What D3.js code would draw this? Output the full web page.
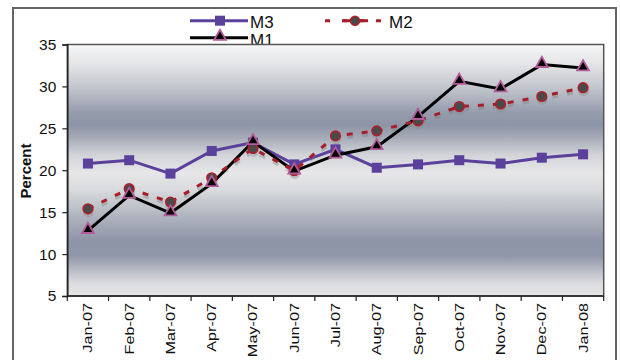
<!DOCTYPE html>
<html>
<head>
<meta charset="utf-8">
<script src="https://cdn.jsdelivr.net/npm/d3@7/dist/d3.min.js"></script>
<style>
  html, body { margin: 0; padding: 0; background: #fff; }
  svg { display: block; font-family: "Liberation Sans", Arial, sans-serif; }
</style>
</head>
<body>
<svg id="chart" width="620" height="360"></svg>
<script>
// Monthly values, January 2007 – January 2008
const months = ["Jan-07","Feb-07","Mar-07","Apr-07","May-07","Jun-07","Jul-07",
                "Aug-07","Sep-07","Oct-07","Nov-07","Dec-07","Jan-08"];
const m1 = [12.8, 17.0, 14.9, 18.4, 23.4, 19.9, 21.8, 22.8, 26.4, 30.6, 29.7, 32.6, 32.2];
const m2 = [15.4, 17.8, 16.2, 19.1, 22.6, 19.95, 24.1, 24.7, 25.9, 27.6, 27.9, 28.8, 29.85];
const m3 = [20.8, 21.2, 19.6, 22.3, 23.3, 20.7, 22.5, 20.3, 20.7, 21.2, 20.8, 21.5, 21.9];
const yTicks = [5, 10, 15, 20, 25, 30, 35];
const yTitle = "Percent";

const svg = d3.select("#chart");

// outer chart frame
svg.append("rect")
  .attr("x", 13).attr("y", 8).attr("width", 603).attr("height", 360)
  .attr("fill", "#fff").attr("stroke", "#666").attr("stroke-width", 2);

const plot = { left: 67.3, right: 603.7, top: 44.5, bottom: 296 };

const x = d3.scaleBand().domain(months).range([plot.left, plot.right]);
const y = d3.scaleLinear().domain([5, 35]).range([plot.bottom, plot.top]);
const cx = d => x(d) + x.bandwidth() / 2;

// ---- legend (drawn first: the plot panel overlaps its lower edge)
const legend = svg.append("g");
function legendLine(g, x0, x1, yy, color, width, dash) {
  g.append("line").attr("x1", x0).attr("x2", x1).attr("y1", yy).attr("y2", yy)
    .attr("stroke", color).attr("stroke-width", width)
    .attr("stroke-dasharray", dash || null);
}
// M3
legendLine(legend, 190, 248, 20.7, "#5b409c", 3);
legend.append("rect").attr("x", 215).attr("y", 15.7).attr("width", 10).attr("height", 10)
  .attr("fill", "#5b409c");
legend.append("text").attr("x", 250).attr("y", 27.5).attr("font-size", 17).attr("fill", "#111").text("M3");
// M2
legendLine(legend, 325, 387, 20.7, "#a61e2a", 3, "5,12");
legendLine(legend, 343, 368, 20.7, "#a61e2a", 3);
legend.append("circle").attr("cx", 355).attr("cy", 20.7).attr("r", 4.5)
  .attr("fill", "#4a4a4a").attr("stroke", "#b01e2a").attr("stroke-width", 1.5);
legend.append("text").attr("x", 389).attr("y", 27.5).attr("font-size", 17).attr("fill", "#111").text("M2");
// M1
legendLine(legend, 190, 248, 37.7, "#000", 3);
legend.append("path").attr("d", d3.symbol(d3.symbolTriangle, 60)())
  .attr("transform", "translate(220,36.5)")
  .attr("fill", "#000").attr("stroke", "#b25a9a").attr("stroke-width", 1.8);
legend.append("text").attr("x", 250).attr("y", 46).attr("font-size", 17).attr("fill", "#111").text("M1");

// ---- plot panel with banded grey-blue gradient
const defs = svg.append("defs");
const grad = defs.append("linearGradient").attr("id", "panelFill")
  .attr("x1", 0).attr("y1", 0).attr("x2", 0).attr("y2", 1);
[
  [0.00, "#f8f9fb"], [0.03, "#eeeff1"], [0.08, "#e3e4e6"], [0.17, "#c3c6cd"],
  [0.27, "#959cac"], [0.32, "#8d94a5"], [0.37, "#a5abb7"], [0.44, "#d2d4d8"],
  [0.51, "#e7e7e8"], [0.58, "#d8dadd"], [0.68, "#b0b5c0"], [0.78, "#8e95a6"],
  [0.84, "#8f96a7"], [0.90, "#b9bdc6"], [0.95, "#dcdde0"], [1.00, "#e6e6e7"]
].forEach(([o, c]) => grad.append("stop").attr("offset", o).attr("stop-color", c));

svg.append("rect")
  .attr("x", plot.left).attr("y", plot.top)
  .attr("width", plot.right - plot.left).attr("height", plot.bottom - plot.top)
  .attr("fill", "url(#panelFill)").attr("stroke", "#555").attr("stroke-width", 1.5);

// ---- y axis
const yAxis = svg.append("g")
  .attr("transform", `translate(${plot.left},0)`)
  .call(d3.axisLeft(y).tickValues(yTicks).tickSize(5).tickPadding(6).tickFormat(d3.format("d")));
yAxis.select(".domain").attr("stroke", "#222").attr("stroke-width", 1.5);
yAxis.selectAll(".tick line").attr("stroke", "#222").attr("stroke-width", 1.2);
yAxis.selectAll(".tick text").attr("font-size", 15.5).attr("fill", "#111")
  .attr("font-family", "'Liberation Sans', Arial, sans-serif");

svg.append("text")
  .attr("transform", "translate(31,171) rotate(-90)")
  .attr("text-anchor", "middle")
  .attr("font-size", 15).attr("font-weight", "bold").attr("fill", "#111")
  .text(yTitle);

// ---- x axis: ticks at category boundaries, rotated labels at centres
const xAxis = svg.append("g");
xAxis.append("line")
  .attr("x1", plot.left).attr("x2", plot.right)
  .attr("y1", plot.bottom).attr("y2", plot.bottom)
  .attr("stroke", "#222").attr("stroke-width", 1.5);
xAxis.selectAll("line.tick")
  .data(months.map(d => x(d)).concat([x.range()[1]]))
  .join("line").attr("class", "tick")
  .attr("x1", d => d).attr("x2", d => d)
  .attr("y1", plot.bottom).attr("y2", plot.bottom + 5)
  .attr("stroke", "#222").attr("stroke-width", 1.2);
xAxis.selectAll("text")
  .data(months)
  .join("text")
  .attr("transform", d => `translate(${cx(d) + 4.5},${plot.bottom + 7}) rotate(-90) scale(1.25,1)`)
  .attr("text-anchor", "end")
  .attr("font-size", 13).attr("fill", "#111")
  .text(d => d);

// ---- series
const line = d3.line().x((d, i) => cx(months[i])).y(d => y(d));

// M3: purple line with squares
svg.append("path").datum(m3).attr("d", line)
  .attr("fill", "none").attr("stroke", "#5b409c").attr("stroke-width", 3);
svg.append("g").selectAll("rect").data(m3).join("rect")
  .attr("x", (d, i) => cx(months[i]) - 5).attr("y", d => y(d) - 5)
  .attr("width", 10).attr("height", 10).attr("fill", "#5b409c");

// M2: dashed red line with round markers and a soft drop shadow
const shadow = svg.append("g").attr("transform", "translate(0.5,3)").attr("opacity", 0.35);
shadow.append("path").datum(m2).attr("d", line)
  .attr("fill", "none").attr("stroke", "#777").attr("stroke-width", 3)
  .attr("stroke-dasharray", "6,9");
shadow.selectAll("circle").data(m2).join("circle")
  .attr("cx", (d, i) => cx(months[i])).attr("cy", d => y(d)).attr("r", 5.5)
  .attr("fill", "#888");

// M1: black line with triangles
svg.append("path").datum(m1).attr("d", line)
  .attr("fill", "none").attr("stroke", "#000").attr("stroke-width", 3);

svg.append("path").datum(m2).attr("d", line)
  .attr("fill", "none").attr("stroke", "#a61e2a").attr("stroke-width", 3)
  .attr("stroke-dasharray", "6,9");
svg.append("g").selectAll("circle").data(m2).join("circle")
  .attr("cx", (d, i) => cx(months[i])).attr("cy", d => y(d)).attr("r", 4.8)
  .attr("fill", "#4a4a4a").attr("stroke", "#b01e2a").attr("stroke-width", 1.6);

svg.append("g").selectAll("path").data(m1).join("path")
  .attr("d", d3.symbol(d3.symbolTriangle, 60)())
  .attr("transform", (d, i) => `translate(${cx(months[i])},${y(d) - 1})`)
  .attr("fill", "#000").attr("stroke", "#b25a9a").attr("stroke-width", 1.8);
</script>
</body>
</html>
